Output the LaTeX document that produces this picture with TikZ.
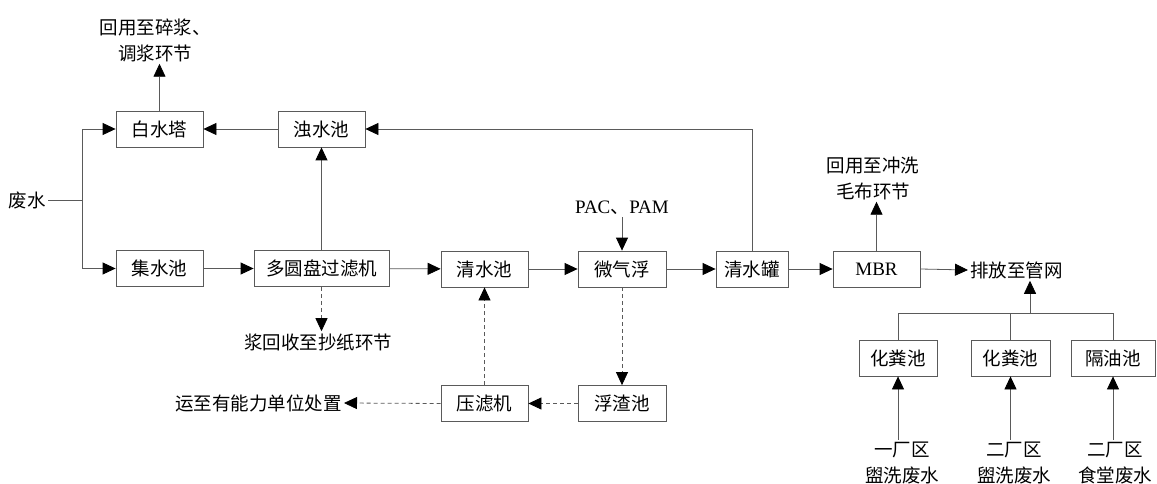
\documentclass[tikz,border=0pt]{standalone}
\usepackage{fontspec}
\usepackage{tikz}
\usetikzlibrary{arrows.meta,positioning,calc}
\setmainfont{Liberation Serif}
\newfontfamily\cjk{Noto Sans CJK SC}
\definecolor{lineGray}{HTML}{5A5A5A}

\begin{document}
\begin{tikzpicture}[
    x=1pt,y=-1pt,
    every node/.style={font=\cjk\fontsize{18.5}{26}\selectfont},
    box/.style={draw=lineGray,line width=0.8pt,inner sep=0pt,
                minimum height=36pt,minimum width=87pt},
    txt/.style={inner sep=2pt,align=center},
    arr/.style={-{Triangle[length=13pt,width=12pt,color=black]},lineGray,line width=0.8pt},
    pipe/.style={lineGray,line width=0.8pt},
    slud/.style={arr,dash pattern=on 4pt off 3pt}
  ]
  \useasboundingbox (0,0) rectangle (1157,484);
  %% Paper-machine water loop
  \node[box] (baishui)  at (159.5,129)   {白水塔};
  \node[box] (zhuoshui) at (321.5,129)   {浊水池};
  \node[box] (jishui)   at (159.5,268.5) {集水池};
  \node[box,minimum width=135pt] (yuanpan) at (321.5,268.5) {多圆盘过滤机};
  \node[box] (qingchi)  at (484.5,269)   {清水池};
  \node[box,minimum width=88pt] (qifu) at (622,269) {微气浮};
  \node[box,minimum width=72pt] (qingguan) at (752,269) {清水罐};
  \node[box] (mbr)      at (876.5,269)   {\rmfamily\fontsize{19}{26}\selectfont MBR};
  \node[box] (yalv)     at (484.5,403.5) {压滤机};
  \node[box,minimum width=88pt] (fuzha) at (622,403.5) {浮渣池};
  %% Domestic sewage
  \node[box,minimum width=78pt] (hfc1) at (898,358)    {化粪池};
  \node[box,minimum width=79pt] (hfc2) at (1010.5,358) {化粪池};
  \node[box,minimum width=84pt] (gyc)  at (1113,358)   {隔油池};
  %% Free texts
  \node[txt,anchor=east] (feishui) at (48,200) {废水};
  \node[txt] (huiyong1) at (155,40)  {回用至碎浆、\\调浆环节};
  \node[txt] (pac)      at (622,208) {\rmfamily\fontsize{19}{26}\selectfont PAC{\cjk 、}PAM};
  \node[txt] (jianghui) at (318,342) {浆回收至抄纸环节};
  \node[txt,anchor=east] (yunzhi) at (344,403) {运至有能力单位处置};
  \node[txt] (huiyong2) at (873,178) {回用至冲洗\\毛布环节};
  \node[txt,anchor=west] (paifang) at (968,270) {排放至管网};
  \node[txt] (src1) at (902,463)  {一厂区\\盥洗废水};
  \node[txt] (src2) at (1014,463) {二厂区\\盥洗废水};
  \node[txt] (src3) at (1115,463) {二厂区\\食堂废水};
  \coordinate (split) at (82,200);
  \coordinate (bus)   at (1030,313);
  %% Main flow
  \draw[pipe] (feishui.east) -- (split);
  \draw[arr] (split) |- (baishui.west);
  \draw[arr] (split) |- (jishui.west);
  \draw[arr] (baishui.north) -- (baishui.north |- huiyong1.south);
  \draw[arr] (zhuoshui) -- (baishui);
  \draw[arr] (yuanpan.north) -- (zhuoshui.south);
  \draw[arr] (jishui) -- (yuanpan);
  \draw[arr] (yuanpan) -- (qingchi);
  \draw[arr] (qingchi) -- (qifu);
  \draw[arr] (qifu) -- (qingguan);
  \draw[arr] (qingguan) -- (mbr);
  \draw[arr] (mbr.east) -- (paifang.west);
  \draw[arr] (qingguan.north) |- (zhuoshui.east);
  \draw[arr] (pac.south) -- (qifu.north);
  \draw[arr] (mbr.north) -- (mbr.north |- huiyong2.south);
  %% Sludge (dashed)
  \draw[slud] (yuanpan.south) -- (yuanpan.south |- jianghui.north);
  \draw[slud] (qifu.south) -- (fuzha.north);
  \draw[slud] (fuzha.west) -- (yalv.east);
  \draw[slud] (yalv.north) -- (qingchi.south);
  \draw[slud] (yalv.west) -- (yunzhi.east);
  %% Sewage collection
  \draw[pipe] (hfc1.north) |- (gyc.north |- bus) -- (gyc.north);
  \draw[pipe] (hfc2.north) -- (hfc2.north |- bus);
  \draw[arr] (bus) -- (bus |- paifang.south);
  \draw[arr] (hfc1.south |- src1.north) -- (hfc1.south);
  \draw[arr] (hfc2.south |- src2.north) -- (hfc2.south);
  \draw[arr] (gyc.south |- src3.north) -- (gyc.south);
\end{tikzpicture}
\end{document}
